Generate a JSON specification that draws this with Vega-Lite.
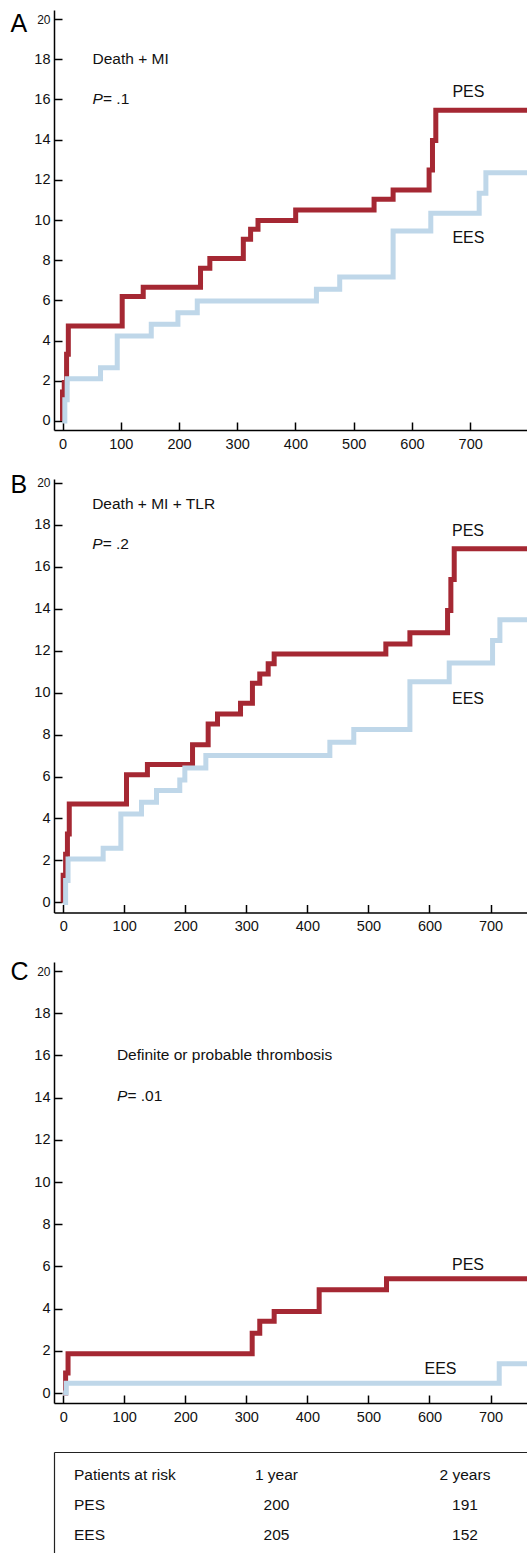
{
  "$schema": "https://vega.github.io/schema/vega-lite/v6.json",
  "padding": {"left": 10, "top": 10, "right": 0, "bottom": 0},
  "autosize": {"type": "pad"},
  "bounds": "flush",
  "spacing": 49,
  "datasets": {
    "A": [
      {"d": 0, "v": 0, "g": "PES"}, {"d": 0, "v": 1.44, "g": "PES"}, {"d": 3, "v": 1.91, "g": "PES"}, {"d": 7, "v": 3.32, "g": "PES"}, {"d": 10, "v": 4.73, "g": "PES"},
      {"d": 102.5, "v": 6.19, "g": "PES"}, {"d": 138.6, "v": 6.65, "g": "PES"}, {"d": 237, "v": 7.6, "g": "PES"}, {"d": 253, "v": 8.08, "g": "PES"},
      {"d": 310.5, "v": 9.04, "g": "PES"}, {"d": 323, "v": 9.54, "g": "PES"}, {"d": 335.7, "v": 9.98, "g": "PES"}, {"d": 400.4, "v": 10.5, "g": "PES"},
      {"d": 535, "v": 11.03, "g": "PES"}, {"d": 567.7, "v": 11.49, "g": "PES"}, {"d": 629.5, "v": 12.49, "g": "PES"}, {"d": 635.3, "v": 13.96, "g": "PES"},
      {"d": 641, "v": 15.46, "g": "PES"}, {"d": 800, "v": 15.46, "g": "PES"},
      {"d": 0, "v": 0, "g": "EES"}, {"d": 4, "v": 1.05, "g": "EES"}, {"d": 8, "v": 2.1, "g": "EES"}, {"d": 65.3, "v": 2.65, "g": "EES"},
      {"d": 94, "v": 4.23, "g": "EES"}, {"d": 152.4, "v": 4.81, "g": "EES"}, {"d": 198.2, "v": 5.39, "g": "EES"}, {"d": 231.4, "v": 5.97, "g": "EES"},
      {"d": 436, "v": 6.55, "g": "EES"}, {"d": 476, "v": 7.16, "g": "EES"}, {"d": 567.7, "v": 9.45, "g": "EES"}, {"d": 632.4, "v": 10.33, "g": "EES"},
      {"d": 715.5, "v": 11.33, "g": "EES"}, {"d": 727, "v": 12.35, "g": "EES"}, {"d": 800, "v": 12.35, "g": "EES"}
    ],
    "B": [
      {"d": 0, "v": 0, "g": "PES"}, {"d": 0, "v": 1.3, "g": "PES"}, {"d": 4, "v": 2.3, "g": "PES"}, {"d": 7, "v": 3.26, "g": "PES"}, {"d": 10, "v": 4.69, "g": "PES"},
      {"d": 103.7, "v": 6.09, "g": "PES"}, {"d": 138, "v": 6.57, "g": "PES"}, {"d": 211.9, "v": 7.52, "g": "PES"}, {"d": 237.5, "v": 8.5, "g": "PES"},
      {"d": 252.8, "v": 8.98, "g": "PES"}, {"d": 290.5, "v": 9.49, "g": "PES"}, {"d": 310, "v": 10.45, "g": "PES"}, {"d": 322, "v": 10.89, "g": "PES"},
      {"d": 335.8, "v": 11.37, "g": "PES"}, {"d": 345.6, "v": 11.84, "g": "PES"}, {"d": 528.5, "v": 12.32, "g": "PES"}, {"d": 567.9, "v": 12.85, "g": "PES"},
      {"d": 629.6, "v": 13.91, "g": "PES"}, {"d": 635, "v": 15.39, "g": "PES"}, {"d": 640.5, "v": 16.85, "g": "PES"}, {"d": 800, "v": 16.85, "g": "PES"},
      {"d": 0, "v": 0, "g": "EES"}, {"d": 4, "v": 1.05, "g": "EES"}, {"d": 8, "v": 2.07, "g": "EES"}, {"d": 65.5, "v": 2.58, "g": "EES"},
      {"d": 94.5, "v": 4.21, "g": "EES"}, {"d": 128.3, "v": 4.77, "g": "EES"}, {"d": 152.9, "v": 5.33, "g": "EES"}, {"d": 191, "v": 5.83, "g": "EES"},
      {"d": 199.3, "v": 6.41, "g": "EES"}, {"d": 233.7, "v": 7.0, "g": "EES"}, {"d": 436.8, "v": 7.63, "g": "EES"}, {"d": 476, "v": 8.24, "g": "EES"},
      {"d": 567.9, "v": 10.52, "g": "EES"}, {"d": 632.3, "v": 11.41, "g": "EES"}, {"d": 703.3, "v": 12.48, "g": "EES"}, {"d": 715.3, "v": 13.47, "g": "EES"},
      {"d": 800, "v": 13.47, "g": "EES"}
    ],
    "C": [
      {"d": 0, "v": 0, "g": "PES"}, {"d": 4, "v": 0.95, "g": "PES"}, {"d": 8, "v": 1.86, "g": "PES"}, {"d": 309.6, "v": 2.84, "g": "PES"},
      {"d": 322, "v": 3.4, "g": "PES"}, {"d": 345.6, "v": 3.87, "g": "PES"}, {"d": 419.3, "v": 4.9, "g": "PES"}, {"d": 529.6, "v": 5.42, "g": "PES"},
      {"d": 800, "v": 5.42, "g": "PES"},
      {"d": 0, "v": 0, "g": "EES"}, {"d": 5, "v": 0.47, "g": "EES"}, {"d": 714.2, "v": 1.39, "g": "EES"}, {"d": 800, "v": 1.39, "g": "EES"}
    ],
    "T": [
      {"r": "h", "c": "label", "t": "Patients at risk"}, {"r": "h", "c": "y1", "t": "1 year"}, {"r": "h", "c": "y2", "t": "2 years"},
      {"r": "PES", "c": "label", "t": "PES"}, {"r": "PES", "c": "y1", "t": "200"}, {"r": "PES", "c": "y2", "t": "191"},
      {"r": "EES", "c": "label", "t": "EES"}, {"r": "EES", "c": "y1", "t": "205"}, {"r": "EES", "c": "y2", "t": "152"}
    ]
  },
  "vconcat": [
    {
      "width": 473, "height": 420,
      "layer": [
        {
          "data": {"name": "A"},
          "mark": {"type": "line", "interpolate": "step-after", "strokeWidth": 5, "clip": true, "strokeJoin": "miter"},
          "encoding": {
            "x": {"field": "d", "type": "quantitative", "scale": {"domain": [-14.6, 797.6], "nice": false, "zero": false},
              "axis": {"title": null, "values": [0, 50, 100, 150, 200, 250, 300, 350, 400, 450, 500, 550, 600, 650, 700, 750],
                "labelExpr": "datum.value % 100 == 0 ? datum.label : ''",
                "tickSize": {"condition": {"test": "datum.value % 100 == 0", "value": -8}, "value": -5},
                "labelFontSize": 14.5, "labelPadding": 15}},
            "y": {"field": "v", "type": "quantitative", "scale": {"domain": [-0.45, 20.45], "nice": false, "zero": false},
              "axis": {"values": [0, 1, 2, 3, 4, 5, 6, 7, 8, 9, 10, 11, 12, 13, 14, 15, 16, 17, 18, 19, 20],
                "labelExpr": "datum.value % 2 == 0 ? datum.label : ''",
                "tickSize": {"condition": {"test": "datum.value % 2 == 0", "value": -8}, "value": -5},
                "labelFontSize": {"condition": {"test": "datum.value == 20", "value": 12}, "value": 14.5},
                "labelPadding": 12,
                "title": "A", "titleAngle": 0, "titleAlign": "left", "titleBaseline": "alphabetic",
                "titleX": -44, "titleY": 21, "titleFontSize": 25, "titleFontWeight": "normal"}},
            "color": {"field": "g", "type": "nominal", "scale": {"domain": ["EES", "PES"], "range": ["#bfd7e9", "#a52833"]}, "legend": null}
          }
        },
        {"data": {"values": [{}]}, "mark": {"type": "text", "align": "left", "baseline": "middle", "fontSize": 15.5},
         "encoding": {"x": {"datum": 51.5}, "y": {"datum": 18}, "text": {"value": "Death + MI"}}},
        {"data": {"values": [{}]}, "mark": {"type": "text", "align": "left", "baseline": "middle", "fontSize": 15.5, "fontStyle": "italic"},
         "encoding": {"x": {"datum": 51.5}, "y": {"datum": 16}, "text": {"value": "P"}}},
        {"data": {"values": [{}]}, "mark": {"type": "text", "align": "left", "baseline": "middle", "fontSize": 15.5, "dx": 10.5},
         "encoding": {"x": {"datum": 51.5}, "y": {"datum": 16}, "text": {"value": "= .1"}}},
        {"data": {"values": [{}]}, "mark": {"type": "text", "align": "center", "baseline": "middle", "fontSize": 16},
         "encoding": {"x": {"datum": 697}, "y": {"datum": 16.37}, "text": {"value": "PES"}}},
        {"data": {"values": [{}]}, "mark": {"type": "text", "align": "center", "baseline": "middle", "fontSize": 16},
         "encoding": {"x": {"datum": 697}, "y": {"datum": 9.1}, "text": {"value": "EES"}}}
      ]
    },
    {
      "width": 473, "height": 433.5,
      "layer": [
        {
          "data": {"name": "B"},
          "mark": {"type": "line", "interpolate": "step-after", "strokeWidth": 5, "clip": true, "strokeJoin": "miter"},
          "encoding": {
            "x": {"field": "d", "type": "quantitative", "scale": {"domain": [-15, 759.7], "nice": false, "zero": false},
              "axis": {"title": null, "values": [0, 50, 100, 150, 200, 250, 300, 350, 400, 450, 500, 550, 600, 650, 700, 750],
                "labelExpr": "datum.value % 100 == 0 ? datum.label : ''",
                "tickSize": {"condition": {"test": "datum.value % 100 == 0", "value": -8}, "value": -5},
                "labelFontSize": 14.5, "labelPadding": 15}},
            "y": {"field": "v", "type": "quantitative", "scale": {"domain": [-0.48, 20.18], "nice": false, "zero": false},
              "axis": {"values": [0, 1, 2, 3, 4, 5, 6, 7, 8, 9, 10, 11, 12, 13, 14, 15, 16, 17, 18, 19, 20],
                "labelExpr": "datum.value % 2 == 0 ? datum.label : ''",
                "tickSize": {"condition": {"test": "datum.value % 2 == 0", "value": -8}, "value": -5},
                "labelFontSize": {"condition": {"test": "datum.value == 20", "value": 12}, "value": 14.5},
                "labelPadding": 12,
                "title": "B", "titleAngle": 0, "titleAlign": "left", "titleBaseline": "alphabetic",
                "titleX": -44, "titleY": 13, "titleFontSize": 25, "titleFontWeight": "normal"}},
            "color": {"field": "g", "type": "nominal", "scale": {"domain": ["EES", "PES"], "range": ["#bfd7e9", "#a52833"]}, "legend": null}
          }
        },
        {"data": {"values": [{}]}, "mark": {"type": "text", "align": "left", "baseline": "middle", "fontSize": 15.5},
         "encoding": {"x": {"datum": 47.5}, "y": {"datum": 19}, "text": {"value": "Death + MI + TLR"}}},
        {"data": {"values": [{}]}, "mark": {"type": "text", "align": "left", "baseline": "middle", "fontSize": 15.5, "fontStyle": "italic"},
         "encoding": {"x": {"datum": 47.5}, "y": {"datum": 17.1}, "text": {"value": "P"}}},
        {"data": {"values": [{}]}, "mark": {"type": "text", "align": "left", "baseline": "middle", "fontSize": 15.5, "dx": 10.5},
         "encoding": {"x": {"datum": 47.5}, "y": {"datum": 17.1}, "text": {"value": "= .2"}}},
        {"data": {"values": [{}]}, "mark": {"type": "text", "align": "center", "baseline": "middle", "fontSize": 16},
         "encoding": {"x": {"datum": 663}, "y": {"datum": 17.7}, "text": {"value": "PES"}}},
        {"data": {"values": [{}]}, "mark": {"type": "text", "align": "center", "baseline": "middle", "fontSize": 16},
         "encoding": {"x": {"datum": 663}, "y": {"datum": 9.7}, "text": {"value": "EES"}}}
      ]
    },
    {
      "width": 473, "height": 441,
      "layer": [
        {
          "data": {"name": "C"},
          "mark": {"type": "line", "interpolate": "step-after", "strokeWidth": 5, "clip": true, "strokeJoin": "miter"},
          "encoding": {
            "x": {"field": "d", "type": "quantitative", "scale": {"domain": [-15, 759.7], "nice": false, "zero": false},
              "axis": {"title": null, "values": [0, 50, 100, 150, 200, 250, 300, 350, 400, 450, 500, 550, 600, 650, 700, 750],
                "labelExpr": "datum.value % 100 == 0 ? datum.label : ''",
                "tickSize": {"condition": {"test": "datum.value % 100 == 0", "value": -8}, "value": -5},
                "labelFontSize": 14.5, "labelPadding": 15}},
            "y": {"field": "v", "type": "quantitative", "scale": {"domain": [-0.47, 20.43], "nice": false, "zero": false},
              "axis": {"values": [0, 1, 2, 3, 4, 5, 6, 7, 8, 9, 10, 11, 12, 13, 14, 15, 16, 17, 18, 19, 20],
                "labelExpr": "datum.value % 2 == 0 ? datum.label : ''",
                "tickSize": {"condition": {"test": "datum.value % 2 == 0", "value": -8}, "value": -5},
                "labelFontSize": {"condition": {"test": "datum.value == 20", "value": 12}, "value": 14.5},
                "labelPadding": 12,
                "title": "C", "titleAngle": 0, "titleAlign": "left", "titleBaseline": "alphabetic",
                "titleX": -44, "titleY": 17, "titleFontSize": 25, "titleFontWeight": "normal"}},
            "color": {"field": "g", "type": "nominal", "scale": {"domain": ["EES", "PES"], "range": ["#bfd7e9", "#a52833"]}, "legend": null}
          }
        },
        {"data": {"values": [{}]}, "mark": {"type": "text", "align": "left", "baseline": "middle", "fontSize": 15.5},
         "encoding": {"x": {"datum": 88}, "y": {"datum": 16}, "text": {"value": "Definite or probable thrombosis"}}},
        {"data": {"values": [{}]}, "mark": {"type": "text", "align": "left", "baseline": "middle", "fontSize": 15.5, "fontStyle": "italic"},
         "encoding": {"x": {"datum": 88}, "y": {"datum": 14.1}, "text": {"value": "P"}}},
        {"data": {"values": [{}]}, "mark": {"type": "text", "align": "left", "baseline": "middle", "fontSize": 15.5, "dx": 10.5},
         "encoding": {"x": {"datum": 88}, "y": {"datum": 14.1}, "text": {"value": "= .01"}}},
        {"data": {"values": [{}]}, "mark": {"type": "text", "align": "center", "baseline": "middle", "fontSize": 16},
         "encoding": {"x": {"datum": 663}, "y": {"datum": 6.08}, "text": {"value": "PES"}}},
        {"data": {"values": [{}]}, "mark": {"type": "text", "align": "center", "baseline": "middle", "fontSize": 16},
         "encoding": {"x": {"datum": 618}, "y": {"datum": 1.15}, "text": {"value": "EES"}}}
      ]
    },
    {
      "width": 473, "height": 100.7,
      "data": {"name": "T"},
      "encoding": {
        "x": {"field": "c", "type": "nominal",
          "scale": {"type": "point", "domain": ["label", "y1", "y2"], "padding": 0.2546, "align": 0.354},
          "axis": {"orient": "top", "title": null, "labels": false, "ticks": false, "domain": true, "domainWidth": 1.2, "domainColor": "#222"}},
        "y": {"field": "r", "type": "nominal",
          "scale": {"type": "point", "domain": ["h", "PES", "EES"], "padding": 0.698, "align": 0.565},
          "axis": {"orient": "left", "title": null, "labels": false, "ticks": false, "domain": true, "domainWidth": 1.2, "domainColor": "#222"}},
        "text": {"field": "t", "type": "nominal"}
      },
      "layer": [
        {"transform": [{"filter": "datum.c == 'label'"}],
         "mark": {"type": "text", "align": "left", "baseline": "middle", "fontSize": 15.5, "dx": -14}},
        {"transform": [{"filter": "datum.c != 'label'"}],
         "mark": {"type": "text", "align": "center", "baseline": "middle", "fontSize": 15.5}}
      ]
    }
  ],
  "config": {
    "font": "Liberation Sans",
    "view": {"stroke": null},
    "axis": {"grid": false, "domainColor": "#000", "tickColor": "#000", "labelColor": "#111", "domainWidth": 1.5, "tickWidth": 1.5, "labelFont": "Liberation Sans", "titleFont": "Liberation Sans", "titleColor": "#000"},
    "text": {"font": "Liberation Sans", "color": "#111"}
  }
}
